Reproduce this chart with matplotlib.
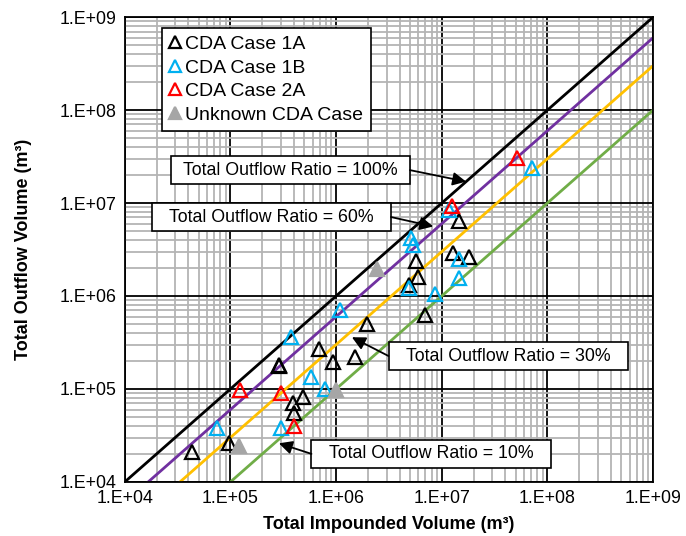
import numpy as np
from matplotlib import pyplot as plt
from matplotlib.patches import Rectangle
from matplotlib.ticker import LogLocator, FuncFormatter

plt.rcParams['font.family'] = ['Liberation Sans', 'DejaVu Sans']

case_1a_x = [4.3e4, 9.7e4, 2.87e5, 2.9e5, 4.85e5, 3.9e5, 4.0e5, 6.9e5, 9.3e5, 1.51e6, 1.96e6,
             5.7e6, 5.96e6, 4.9e6, 6.9e6, 1.46e7, 1.28e7, 1.81e7]
case_1a_y = [2.1e4, 2.6e4, 1.81e5, 1.75e5, 8.2e4, 7.1e4, 5.5e4, 2.69e5, 1.95e5, 2.2e5, 5.0e5,
             2.38e6, 1.6e6, 1.31e6, 6.25e5, 6.4e6, 2.9e6, 2.6e6]

case_1b_x = [7.4e4, 3.0e5, 3.73e5, 5.8e5, 7.8e5, 1.09e6, 5.1e6, 5.3e6, 4.9e6, 8.6e6,
             1.46e7, 1.46e7, 7.1e7, 1.17e7]
case_1b_y = [3.8e4, 3.8e4, 3.6e5, 1.35e5, 1.0e5, 7.1e5, 4.2e6, 3.5e6, 1.22e6, 1.05e6,
             2.5e6, 1.56e6, 2.38e7, 8.4e6]

case_2a_x = [1.23e5, 3.0e5, 4.0e5, 1.25e7, 5.15e7]
case_2a_y = [9.75e4, 9.1e4, 4.0e4, 9.3e6, 3.05e7]

unknown_x = [1.2e5, 9.95e5, 2.43e6]
unknown_y = [2.44e4, 9.75e4, 1.95e6]

ratios = [1.0, 0.6, 0.3, 0.1]
ratio_colors = ['black', '#7030A0', '#FFC000', '#70AD47']

# annotation text, arrow tip, box centre and which side the arrow leaves from
ratio_labels = ['Total Outflow Ratio = 100%', 'Total Outflow Ratio = 60%',
                'Total Outflow Ratio = 30%', 'Total Outflow Ratio = 10%']
label_tips = [(1.7e7, 1.7e7), (8.3e6, 5.6e6), (1.41e6, 3.6e5), (2.87e5, 2.6e4)]
label_pos = [(3.69e5, 2.26e7), (2.44e5, 7.07e6), (4.24e7, 2.26e5), (7.91e6, 2.0e4)]
arrow_side = [1, 1, -1, -1]

fig = plt.figure(figsize=(6.86, 5.36), dpi=100)
ax = fig.add_axes([0.182, 0.101, 0.770, 0.867])
ax.set_xscale('log')
ax.set_yscale('log')
ax.set_xlim(1e4, 1e9)
ax.set_ylim(1e4, 1e9)

ax.xaxis.set_minor_locator(LogLocator(base=10, subs=np.arange(2, 10)))
ax.yaxis.set_minor_locator(LogLocator(base=10, subs=np.arange(2, 10)))
ax.grid(which='minor', color='#b4b4b4', lw=1.3, zorder=0)
ax.grid(which='major', color='black', lw=1.3, zorder=0.5)
ax.set_axisbelow(True)
ax.tick_params(which='both', length=0, labelsize=12.8, pad=6)
ax.xaxis.set_major_formatter(FuncFormatter(lambda v, p: '1.E+%02d' % round(np.log10(v))))
ax.yaxis.set_major_formatter(FuncFormatter(lambda v, p: '1.E+%02d' % round(np.log10(v))))
ax.xaxis.set_minor_formatter(FuncFormatter(lambda v, p: ''))
ax.yaxis.set_minor_formatter(FuncFormatter(lambda v, p: ''))
for s in ax.spines.values():
    s.set_color('black')
    s.set_linewidth(1.3)

xs = np.array([1e3, 1e10])
for r, c in zip(ratios, ratio_colors):
    ax.plot(xs, r * xs, color=c, lw=2, zorder=2)

mk = dict(marker='^', ls='none', markersize=10, markeredgewidth=1.6, zorder=3)
ax.plot(case_1a_x, case_1a_y, mfc='none', mec='black', label='CDA Case 1A', **mk)
ax.plot(case_1b_x, case_1b_y, mfc='none', mec='#00B0F0', label='CDA Case 1B', **mk)
ax.plot(case_2a_x, case_2a_y, mfc='none', mec='red', label='CDA Case 2A', **mk)
ax.plot(unknown_x, unknown_y, mfc='#A6A6A6', mec='#A6A6A6', label='Unknown CDA Case', **mk)

# fixed size text boxes like the excel ones
box_w = 239 / 528
box_h = 28 / 465
for lab, tip, pos, side in zip(ratio_labels, label_tips, label_pos, arrow_side):
    cx = (np.log10(pos[0]) - 4) / 5
    cy = (np.log10(pos[1]) - 4) / 5
    ax.add_patch(Rectangle((cx - box_w / 2, cy - box_h / 2), box_w, box_h, transform=ax.transAxes,
                           fc='white', ec='black', lw=1.2, zorder=5))
    ax.text(cx, cy, lab, transform=ax.transAxes, ha='center', va='center', fontsize=12.8, zorder=6)
    ax.annotate('', xy=tip, xytext=(cx + side * box_w / 2, cy), textcoords='axes fraction',
                arrowprops=dict(arrowstyle='-|>', color='black', lw=1.3, mutation_scale=20,
                                shrinkA=0, shrinkB=0),
                zorder=5)

leg = ax.legend(loc='upper left', bbox_to_anchor=(0.052, 0.998), fontsize=14, markerscale=0.85,
                handlelength=0.55, handletextpad=0.25, borderpad=0.4, labelspacing=0.3,
                fancybox=False, framealpha=1, edgecolor='black')
leg.get_frame().set_linewidth(1.2)

ax.set_xlabel('Total Impounded Volume (m³)', fontsize=13, fontweight='bold', labelpad=6)
ax.set_ylabel('Total Outflow Volume (m³)', fontsize=13, fontweight='bold', labelpad=20)

fig.savefig('out.png', dpi=100)
